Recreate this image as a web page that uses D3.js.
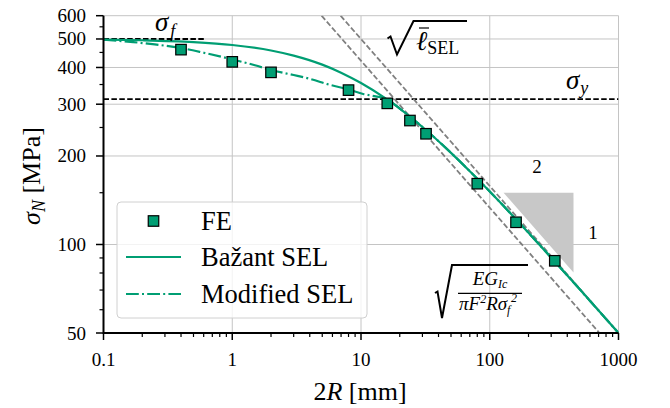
<!DOCTYPE html>
<html><head><meta charset="utf-8">
<script src="https://cdn.jsdelivr.net/npm/d3@7"></script>
<style>body{margin:0;background:#fff}svg{display:block}text{font-family:"Liberation Serif","Times New Roman",serif;fill:#000}</style>
</head><body>
<svg id="c" width="670" height="408"></svg>
<script>
// ---- data ----
const feR = [0.4, 1, 2, 8, 16, 24, 32, 80, 160, 320];
const feSigma = [460, 418, 385, 335, 302, 264, 238, 161, 119, 88];
const bazantR = [0.1, 0.2, 0.5, 1, 2, 3, 5, 7, 10, 15, 20, 30, 50, 70, 100, 150, 200, 300, 500, 700, 1000];
const bazantSigma = [497.5, 495, 488, 477, 457, 439, 409, 384, 354, 317, 290, 251, 205, 177.5, 151.4, 125.6, 109.6, 90.2, 70.4, 59.6, 50];
const modR = [0.1, 0.17, 0.25, 0.4, 0.6, 1, 1.5, 2, 3, 4, 5.75, 8, 10.4, 13, 15.4, 20, 30, 50, 70, 100, 150, 200, 300, 500, 700, 1000];
const modSigma = [497, 488, 479, 466, 449, 426, 407, 392, 377, 366, 349, 337, 325, 319, 314, 290, 251, 205, 177.5, 151.4, 125.6, 109.6, 90.2, 70.4, 59.6, 50];
const sigmaF = 500, sigmaFEnd = 0.62;
const sigmaY = 312;
const asym1R = [4.94, 711], asym1S = [600, 50];
const asym2R = [6.94, 1000], asym2S = [600, 50];
const triR = [128, 447, 447], triS = [150, 150, 80.3];
const xMajor = [0.1, 1, 10, 100, 1000];
const xMajorLabels = ["0.1", "1", "10", "100", "1000"];
const yMajor = [50, 100, 200, 300, 400, 500, 600];
const yMajorLabels = ["50", "100", "200", "300", "400", "500", "600"];
const yGrid = [100, 200, 300, 400, 500, 600];
const xGrid = [1, 10, 100, 1000];
const yMinor = [60, 70, 80, 90, 150, 250, 350, 450, 550];
const legendLabels = ["FE", "Bažant SEL", "Modified SEL"];

const green = "#009e73";
const svg = d3.select("#c");
const x = d3.scaleLog().domain([0.1, 1000]).range([103.5, 618.5]);
const y = d3.scaleLog().domain([50, 600]).range([333, 15.7]);
const xMinor = [];
[0.1, 1, 10, 100].forEach(d => { for (let k = 2; k <= 9; k++) xMinor.push(+(d * k).toPrecision(3)); });

svg.append("defs").append("clipPath").attr("id", "clip")
  .append("rect").attr("x", 103.5).attr("y", 15.7).attr("width", 515).attr("height", 317.3);

// grid
const g = svg.append("g");
g.selectAll(".gx").data(xGrid).join("line")
  .attr("x1", d => x(d)).attr("x2", d => x(d)).attr("y1", y(600)).attr("y2", y(50))
  .attr("stroke", "#c4c4c4").attr("stroke-width", 1);
g.selectAll(".gy").data(yGrid).join("line")
  .attr("x1", x(0.1)).attr("x2", x(1000)).attr("y1", d => y(d)).attr("y2", d => y(d))
  .attr("stroke", "#c4c4c4").attr("stroke-width", 1);

const plot = svg.append("g").attr("clip-path", "url(#clip)");
// triangle
plot.append("path").datum(triR.map((r, i) => [r, triS[i]]))
  .attr("d", d3.line().x(d => x(d[0])).y(d => y(d[1])).curve(d3.curveLinearClosed))
  .attr("fill", "#c8c8c8");
// horizontal dashed
plot.append("line").attr("x1", x(0.1)).attr("x2", x(sigmaFEnd)).attr("y1", y(sigmaF)).attr("y2", y(sigmaF))
  .attr("stroke", "#000").attr("stroke-width", 1.8).attr("stroke-dasharray", "5.5,2.4");
plot.append("line").attr("x1", x(0.1)).attr("x2", x(1000)).attr("y1", y(sigmaY)).attr("y2", y(sigmaY))
  .attr("stroke", "#000").attr("stroke-width", 1.8).attr("stroke-dasharray", "5.5,2.4");
// asymptotes
const ln = d3.line().x(d => x(d[0])).y(d => y(d[1]));
[[asym1R, asym1S], [asym2R, asym2S]].forEach(([R, S]) => {
  plot.append("path").datum(R.map((r, i) => [r, S[i]])).attr("d", ln)
    .attr("fill", "none").attr("stroke", "#808080").attr("stroke-width", 1.8).attr("stroke-dasharray", "5.5,2.4");
});
// curves
plot.append("path").datum(bazantR.map((r, i) => [r, bazantSigma[i]]))
  .attr("d", ln.curve(d3.curveMonotoneX)).attr("fill", "none").attr("stroke", green).attr("stroke-width", 2.2);
plot.append("path").datum(modR.map((r, i) => [r, modSigma[i]]))
  .attr("d", ln.curve(d3.curveMonotoneX)).attr("fill", "none").attr("stroke", green).attr("stroke-width", 2.2)
  .attr("stroke-dasharray", "12.8,3.2,2,3.2");
// markers
const ms = 10.5;
svg.append("g").selectAll("rect").data(feR.map((r, i) => [r, feSigma[i]])).join("rect")
  .attr("x", d => x(d[0]) - ms / 2).attr("y", d => y(d[1]) - ms / 2)
  .attr("width", ms).attr("height", ms).attr("fill", green).attr("stroke", "#000").attr("stroke-width", 1.2);

// axes
const ax = svg.append("g");
ax.append("line").attr("x1", x(0.1)).attr("x2", x(1000)).attr("y1", 333).attr("y2", 333).attr("stroke", "#000").attr("stroke-width", 2);
ax.append("line").attr("x1", 103.5).attr("x2", 103.5).attr("y1", y(600)).attr("y2", 334).attr("stroke", "#000").attr("stroke-width", 2);
ax.selectAll(".xt").data(xMajor).join("line").attr("x1", d => x(d)).attr("x2", d => x(d)).attr("y1", 333).attr("y2", 340).attr("stroke", "#000").attr("stroke-width", 1.5);
ax.selectAll(".xm").data(xMinor).join("line").attr("x1", d => x(d)).attr("x2", d => x(d)).attr("y1", 333).attr("y2", 337).attr("stroke", "#000").attr("stroke-width", 1.2);
ax.selectAll(".yt").data(yMajor).join("line").attr("x1", 96).attr("x2", 103.5).attr("y1", d => y(d)).attr("y2", d => y(d)).attr("stroke", "#000").attr("stroke-width", 1.5);
ax.selectAll(".ym").data(yMinor).join("line").attr("x1", 99.5).attr("x2", 103.5).attr("y1", d => y(d)).attr("y2", d => y(d)).attr("stroke", "#000").attr("stroke-width", 1.2);
ax.selectAll(".xl").data(xMajor).join("text").attr("x", d => x(d)).attr("y", 366)
  .attr("text-anchor", "middle").attr("font-size", 19).text((d, i) => xMajorLabels[i]);
ax.selectAll(".yl").data(yMajor).join("text").attr("x", 86).attr("y", d => y(d) + 6.5)
  .attr("text-anchor", "end").attr("font-size", 19).text((d, i) => yMajorLabels[i]);

// axis labels
const xl = svg.append("text").attr("x", 360).attr("y", 400).attr("text-anchor", "middle").attr("font-size", 26);
xl.append("tspan").text("2");
xl.append("tspan").attr("font-style", "italic").text("R");
xl.append("tspan").text(" [mm]");
const yl = svg.append("text").attr("transform", "translate(40,176) rotate(-90)").attr("text-anchor", "middle").attr("font-size", 26);
yl.append("tspan").attr("font-style", "italic").text("σ");
yl.append("tspan").attr("font-style", "italic").attr("font-size", 18).attr("dy", 5).text("N");
yl.append("tspan").attr("dy", -5).text(" [MPa]");

// annotations
const sf = svg.append("text").attr("x", 155).attr("y", 31).attr("font-size", 27).attr("font-style", "italic");
sf.append("tspan").text("σ");
sf.append("tspan").attr("font-size", 18).attr("dx", 2).attr("dy", 6).text("f");
const sy = svg.append("text").attr("x", 566).attr("y", 89).attr("font-size", 27).attr("font-style", "italic");
sy.append("tspan").text("σ");
sy.append("tspan").attr("font-size", 18).attr("dx", 1).attr("dy", 5).text("y");
svg.append("text").attr("x", 537).attr("y", 173).attr("text-anchor", "middle").attr("font-size", 19).text("2");
svg.append("text").attr("x", 593).attr("y", 239).attr("text-anchor", "middle").attr("font-size", 19).text("1");

// sqrt(l_SEL)
svg.append("path").attr("d", "M387.5,38.5 L390.5,36.5 L397,54.5 L413.5,21 L467,21")
  .attr("fill", "none").attr("stroke", "#000").attr("stroke-width", 2);
svg.append("line").attr("x1", 419).attr("x2", 429).attr("y1", 28).attr("y2", 28).attr("stroke", "#000").attr("stroke-width", 1.2);
const lt = svg.append("text").attr("x", 416).attr("y", 50).attr("font-size", 27);
lt.append("tspan").attr("font-style", "italic").text("ℓ");
lt.append("tspan").attr("font-size", 18).attr("dy", 4).text("SEL");

// sqrt(E G / ...)
svg.append("path").attr("d", "M435,293 L437.5,291.5 L442,318 L452,265 L528,265")
  .attr("fill", "none").attr("stroke", "#000").attr("stroke-width", 2);
svg.append("line").attr("x1", 458).attr("x2", 522).attr("y1", 293.3).attr("y2", 293.3).attr("stroke", "#000").attr("stroke-width", 1.2);
const num = svg.append("text").attr("x", 490).attr("y", 285).attr("text-anchor", "middle").attr("font-size", 19).attr("font-style", "italic");
num.append("tspan").text("E");
num.append("tspan").text("G");
num.append("tspan").attr("font-size", 12).attr("dy", 3).text("Ic");
const den = svg.append("text").attr("x", 459).attr("y", 310).attr("font-size", 19).attr("font-style", "italic");
den.append("tspan").text("πF");
den.append("tspan").attr("font-size", 12).attr("dy", -7).text("2");
den.append("tspan").attr("dy", 7).text("Rσ");
den.append("tspan").attr("font-size", 12).attr("dy", 4).text("f");
den.append("tspan").attr("font-size", 12).attr("dx", 0.5).attr("dy", -12).text("2");

// legend
const lg = svg.append("g");
lg.append("rect").attr("x", 117).attr("y", 202).attr("width", 250).attr("height", 116).attr("rx", 4)
  .attr("fill", "#fff").attr("fill-opacity", 0.8).attr("stroke", "#d0d0d0").attr("stroke-width", 1);
const rows = [221, 257, 294];
lg.append("rect").attr("x", 153.5 - ms / 2).attr("y", rows[0] - ms / 2).attr("width", ms).attr("height", ms)
  .attr("fill", green).attr("stroke", "#000").attr("stroke-width", 1.2);
lg.append("line").attr("x1", 126).attr("x2", 181).attr("y1", rows[1]).attr("y2", rows[1]).attr("stroke", green).attr("stroke-width", 2.2);
lg.append("line").attr("x1", 126).attr("x2", 181).attr("y1", rows[2]).attr("y2", rows[2]).attr("stroke", green).attr("stroke-width", 2.2)
  .attr("stroke-dasharray", "12.8,3.2,2,3.2");
lg.selectAll(".lt").data(legendLabels).join("text").attr("x", 201).attr("y", (d, i) => rows[i] + 8.5)
  .attr("font-size", 26.5).text(d => d);
</script>
</body></html>
